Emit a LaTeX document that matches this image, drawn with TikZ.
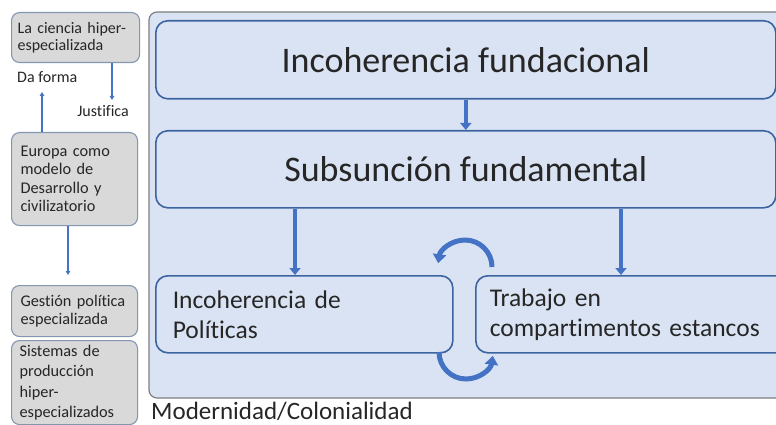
\documentclass[tikz,border=0pt]{standalone}
\usepackage{fontspec}
\setmainfont{Carlito}[Ligatures={NoCommon}]
\usetikzlibrary{arrows.meta}
\definecolor{contfill}{HTML}{DAE3F3}
\definecolor{contdraw}{HTML}{7F7F7F}
\definecolor{boxdraw}{HTML}{3B64A0}
\definecolor{arrowblue}{HTML}{4472C4}
\definecolor{grayfill}{HTML}{D9D9D9}
\definecolor{graydraw}{HTML}{8497B0}
\definecolor{txt}{HTML}{262626}
\tikzset{
  x=1pt, y=-1pt,
  container/.style={draw=contdraw, fill=contfill, line width=1.2pt, rounded corners=8pt},
  bigbox/.style={draw=boxdraw, fill=contfill, line width=1.6pt, rounded corners=12pt, anchor=north west, inner sep=0pt, text=txt},
  sidebox/.style={draw=graydraw, fill=grayfill, line width=1.1pt, rounded corners=8pt, anchor=north west, inner xsep=9pt, inner ysep=0pt, align=left, text=txt, minimum width=126pt, text width=108pt},
  thinarrow/.style={draw=arrowblue, line width=1.2pt, -{Triangle[width=4.5pt,length=4pt]}},
  blockarrow/.style={draw=arrowblue, line width=4.5pt, -{Triangle[width=11pt,length=7pt]}},
  curvearrow/.style={draw=arrowblue, line width=5pt, -{Triangle[width=13pt,length=9pt]}},
  sidelabel/.style={font=\fontsize{16}{18}\selectfont, text=txt, inner sep=0pt},
}
\begin{document}
\begin{tikzpicture}
\useasboundingbox (0,0) rectangle (776,425);
\clip (0,0) rectangle (776,425);
\fill[white] (0,0) rectangle (776,425);
% container
\draw[container] (149,12) rectangle (790,398);
\node[anchor=west, inner sep=0pt, text=txt, font=\fontsize{25}{28}\selectfont] (modcol) at (151,411) {Modernidad/Colonialidad};
% big boxes
\node[bigbox, minimum width=620pt, minimum height=78pt, font=\fontsize{36}{40}\selectfont] (inco) at (155,20) {Incoherencia fundacional};
\node[bigbox, minimum width=620pt, minimum height=77pt, font=\fontsize{36}{40}\selectfont] (subs) at (155,130) {Subsunción fundamental};
\node[bigbox, minimum width=297pt, minimum height=77pt, text width=263pt, inner xsep=17pt, align=left, font=\fontsize{25.5}{30}\selectfont] (pol) at (155,275) {Incoherencia de\\Políticas};
\node[bigbox, minimum width=300pt, minimum height=77pt, text width=285pt, inner xsep=14pt, align=left, font=\fontsize{25.5}{30}\selectfont] (trab) at (475,275) {Trabajo en\\compartimentos estancos};
% block arrows
\draw[blockarrow] (inco.south) -- (subs.north);
\draw[blockarrow] (subs.south -| 295,0) -- (pol.north -| 295,0);
\draw[blockarrow] (subs.south -| 621,0) -- (trab.north -| 621,0);
% curved arrows
\coordinate (ta) at (492,267);
\coordinate (ba) at (439,352);
\draw[curvearrow] (ta) arc[start angle=0, end angle=172, radius=27pt];
\draw[curvearrow] (ba) arc[start angle=180, end angle=352, radius=27pt];
% side boxes
\node[sidebox, minimum height=50pt, inner xsep=6pt, text width=116pt, font=\fontsize{16}{17}\selectfont] (cien) at (11,12) {La ciencia hiper-\\especializada};
\node[sidebox, minimum height=93pt, font=\fontsize{16.3}{18.5}\selectfont] (euro) at (11,132) {Europa como\\modelo de\\Desarrollo y\\civilizatorio};
\node[sidebox, minimum height=51pt, font=\fontsize{16.3}{18}\selectfont] (gest) at (11,285) {Gestión política\\especializada};
\node[sidebox, minimum height=84pt, inner xsep=8pt, text width=110pt, font=\fontsize{16.3}{20.5}\selectfont] (sist) at (11,340) {Sistemas de\\producción\\hiper-\\especializados};
% side labels and arrows
\node[sidelabel, anchor=west] (daf) at (17,77) {Da forma};
\node[sidelabel, anchor=east] (jus) at (129,111) {Justifica};
\coordinate (jtop) at (112,100);
\coordinate (dtop) at (42,92);
\coordinate (gtop) at (68,275);
\draw[thinarrow] (cien.south -| jtop) -- (jtop);
\draw[thinarrow] (euro.north -| dtop) -- (dtop);
\draw[thinarrow] (euro.south -| gtop) -- (gtop);
\end{tikzpicture}
\end{document}
